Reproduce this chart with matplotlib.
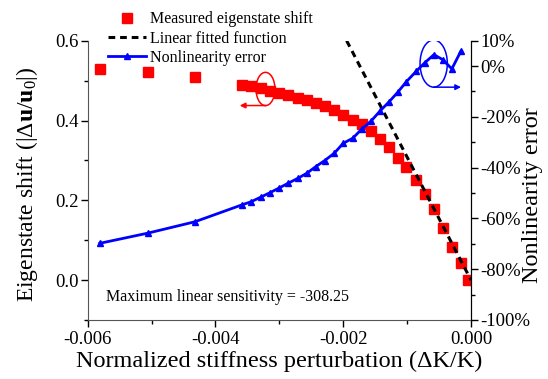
import numpy as np
import matplotlib
matplotlib.use("Agg")
import matplotlib.pyplot as plt
from matplotlib.patches import Ellipse
from matplotlib.ticker import MultipleLocator, FormatStrFormatter, FuncFormatter

plt.rcParams['font.family'] = 'Liberation Serif'
plt.rcParams['mathtext.fontset'] = 'custom'
plt.rcParams['mathtext.rm'] = 'Liberation Serif'
plt.rcParams['mathtext.it'] = 'Liberation Serif:italic'
plt.rcParams['mathtext.bf'] = 'Liberation Serif:bold'
plt.rcParams['axes.unicode_minus'] = False

# stiffness perturbation dK/K
dk = [-0.00581, -0.00506, -0.00432, -0.00359, -0.00344, -0.00329, -0.00315,
      -0.00301, -0.00286, -0.00271, -0.00257, -0.00243, -0.00229, -0.00214,
      -0.00200, -0.00185, -0.00171, -0.00157, -0.00142, -0.00128, -0.00115,
      -0.00101, -0.00086, -0.00072, -0.00058, -0.00044, -0.00030, -0.00016,
      -0.00004]
# measured eigenstate shift |du/u0|
shift = [0.530, 0.5225, 0.510, 0.490, 0.486, 0.481, 0.475, 0.469, 0.463,
         0.457, 0.451, 0.444, 0.436, 0.427, 0.415, 0.4025, 0.390, 0.3725,
         0.3525, 0.333, 0.306, 0.283, 0.250, 0.217, 0.178, 0.131, 0.083,
         0.044, 0.000]
# nonlinearity error (%), undefined at the last point
nl_err = [-69.8, -65.8, -61.3, -54.7, -53.4, -51.6, -49.9, -48.1, -46.1,
          -44.2, -42.2, -39.6, -37.2, -34.3, -30.4, -28.4, -24.8, -21.8,
          -17.6, -14.0, -10.4, -6.1, -2.1, 1.4, 4.5, 2.5, -1.1, 5.8]
sensitivity = -308.25

fig = plt.figure(figsize=(5.48, 3.79), dpi=100)
ax = fig.add_axes([0.160, 0.1557, 0.6995, 0.7369])
ax2 = ax.twinx()

# linear fit through origin, clipped at top of axis
x_fit = np.linspace(0.6 / sensitivity, 0, 50)
h_sq, = ax.plot(dk, shift, 's', color='#ff0000', ms=6.5, mec='#ff0000', zorder=2,
                label='Measured eigenstate shift')
h_fit, = ax.plot(x_fit, sensitivity * x_fit, '--', color='black', lw=2.2,
                 dashes=(2.2, 1.6), zorder=3, label='Linear fitted function')
h_nl, = ax2.plot(dk[:len(nl_err)], nl_err, '-^', color='#0000ff', lw=2.0, ms=5,
                 label='Nonlinearity error')

ax.set_xlim(-0.006, 0.0)
ax.set_ylim(-0.1, 0.6)
ax2.set_ylim(-100, 10)

ax.xaxis.set_major_locator(MultipleLocator(0.002))
ax.xaxis.set_minor_locator(MultipleLocator(0.001))
ax.xaxis.set_major_formatter(FormatStrFormatter('%.3f'))
ax.yaxis.set_major_locator(MultipleLocator(0.2))
ax.yaxis.set_minor_locator(MultipleLocator(0.1))
ax.yaxis.set_major_formatter(FormatStrFormatter('%.1f'))
ax2.set_yticks([-100, -80, -60, -40, -20, 0, 10])
ax2.set_yticks([-90, -70, -50, -30, -10], minor=True)
ax2.yaxis.set_major_formatter(FuncFormatter(lambda v, p: '%d%%' % v))

for a in (ax, ax2):
    a.tick_params(which='major', direction='out', length=5, width=1,
                  labelsize=13.5, pad=1.5)
    a.tick_params(which='minor', direction='out', length=3, width=1)
    a.spines['top'].set_visible(False)
ax.tick_params(axis='x', pad=3)
ax.spines['left'].set_color('#555555')
ax.spines['bottom'].set_color('#555555')
ax2.spines['left'].set_visible(False)
ax2.spines['bottom'].set_visible(False)

ax.set_xlabel('Normalized stiffness perturbation (\u0394K/K)', fontsize=17.5, labelpad=2)
ax.set_ylabel(r'Eigenstate shift ($|\mathit{\Delta}\mathbf{u}/\mathbf{u}_{\mathit{0}}|$)',
              fontsize=17)
ax.yaxis.set_label_coords(-0.125, 0.487)
ax2.set_ylabel('Nonlinearity error', fontsize=17.5)
ax2.yaxis.set_label_coords(1.134, 0.446)

ax.text(0.048, 0.082, 'Maximum linear sensitivity = %.2f' % sensitivity,
        transform=ax.transAxes, fontsize=11.5, va='center', ha='left')

# markers pointing each curve to its axis
ax.add_patch(Ellipse((-0.003217, 0.479), 0.000297, 0.0833, fill=False,
                     ec='#ff0000', lw=1.1))
ax.annotate('', xy=(-0.00362, 0.4375), xytext=(-0.00321, 0.4375),
            arrowprops=dict(arrowstyle='-|>', color='#ff0000', lw=1.1,
                            mutation_scale=8, shrinkA=0, shrinkB=0))
ax2.add_patch(Ellipse((-0.000584, 1.0), 0.000427, 18.6, fill=False,
                      ec='#0000ff', lw=1.1))
ax2.annotate('', xy=(-0.000156, -8.3), xytext=(-0.000584, -8.3),
             arrowprops=dict(arrowstyle='-|>', color='#0000ff', lw=1.1,
                             mutation_scale=8, shrinkA=0, shrinkB=0))

ax2.legend(handles=[h_sq, h_fit, h_nl], loc='upper left',
           bbox_to_anchor=(0.053, 1.105), frameon=False, fontsize=11.5,
           handlelength=2.4, handletextpad=0.25, labelspacing=0.2,
           borderpad=0, borderaxespad=0)

fig.savefig('out.png', dpi=100)
